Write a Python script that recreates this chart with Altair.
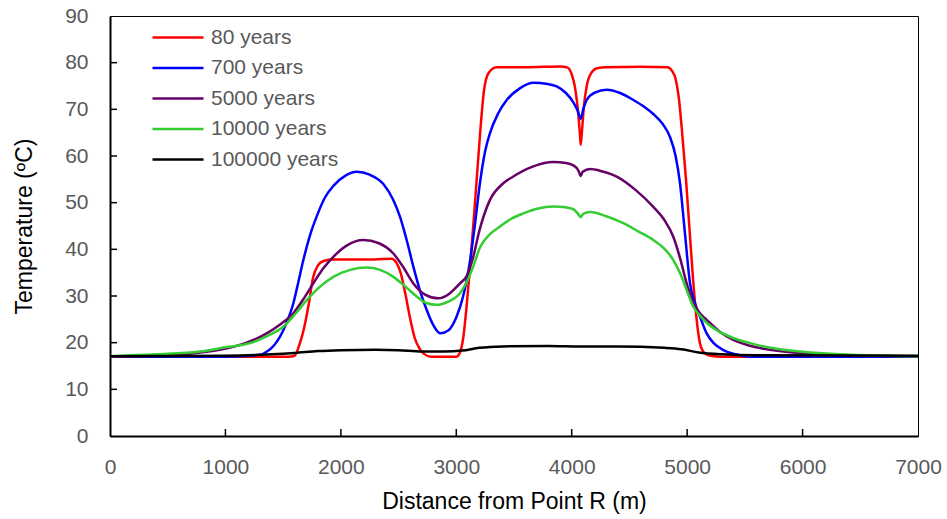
import altair as alt
import pandas as pd

series_names = ["80 years", "700 years", "5000 years", "10000 years", "100000 years"]
series_colors = ["#FF0000", "#0000FF", "#660066", "#33CC33", "#000000"]

red_x = [0, 1000, 1550, 1600, 1640, 1680, 1720, 1760, 1800, 1850, 1935, 2200, 2440, 2480, 2520, 2560, 2600, 2640, 2680, 2720, 2780, 3000,
         3030, 3060, 3090, 3120, 3150, 3180, 3210, 3240, 3280, 3350, 3600, 3900, 3960, 4000, 4030, 4055, 4070, 4078, 4088, 4105, 4130, 4170,
         4220, 4300, 4600, 4830, 4870, 4900, 4930, 4960, 4990, 5020, 5050, 5080, 5110, 5150, 5200, 5300, 6000, 7000]
red_y = [17.0, 17.0, 17.0, 17.2, 19.5, 23.0, 28.0, 34.0, 36.5, 37.5, 37.8, 37.8, 38.0, 37.2, 34.8, 30.3, 25.2, 21.0, 18.8, 17.6, 17.0, 17.0,
         17.8, 21.0, 28.0, 36.5, 46.0, 56.0, 66.0, 74.0, 77.8, 79.0, 79.0, 79.2, 79.0, 77.5, 74.5, 69.5, 65.0, 62.4, 65.0, 70.5, 75.0, 77.8,
         78.8, 79.0, 79.1, 79.0, 78.2, 76.5, 72.0, 64.0, 55.0, 44.5, 34.0, 25.5, 20.0, 17.8, 17.2, 17.0, 17.0, 17.0]

blue_x = [0, 1000, 1300, 1360, 1420, 1473, 1530, 1588, 1630, 1675, 1730, 1790, 1860, 1935, 2040, 2137, 2250, 2368, 2450, 2512, 2570, 2628,
          2690, 2744, 2800, 2860, 2930, 3003, 3060, 3119, 3160, 3205, 3250, 3292, 3360, 3437, 3550, 3668, 3780, 3870, 3950, 4014, 4050,
          4078, 4100, 4130, 4200, 4303, 4420, 4534, 4630, 4707, 4790, 4851, 4900, 4938, 4981, 5025, 5070, 5111, 5169, 5230, 5314, 5420,
          5545, 6000, 7000]
blue_y = [17.0, 17.0, 17.4, 18.1, 19.4, 21.3, 24.3, 28.4, 32.8, 37.7, 42.8, 47.0, 51.0, 53.6, 55.8, 56.6, 56.0, 54.0, 50.8, 47.0, 42.0, 36.3,
          30.8, 27.0, 23.8, 22.0, 22.6, 25.6, 30.0, 37.5, 45.0, 54.2, 61.0, 64.9, 69.0, 72.0, 74.5, 75.7, 75.5, 74.9, 73.5, 71.5, 69.8,
          68.0, 70.0, 72.0, 73.6, 74.2, 73.5, 72.0, 70.5, 69.0, 66.8, 64.1, 60.0, 54.2, 43.4, 32.7, 28.3, 25.6, 22.0, 19.9, 18.4, 17.5,
          17.0, 17.0, 17.0]

purple_x = [0, 500, 1068, 1357, 1480, 1588, 1680, 1761, 1850, 1935, 2050, 2195, 2330, 2455, 2540, 2628, 2730, 2844, 2940, 3032, 3090,
            3148, 3200, 3292, 3400, 3494, 3650, 3841, 3950, 4014, 4060, 4078, 4095, 4159, 4250, 4390, 4550, 4707, 4800, 4880, 4940,
            4996, 5060, 5111, 5169, 5285, 5400, 5600, 5833, 6266, 7000]
purple_y = [17.0, 17.3, 19.1, 22.0, 24.0, 26.3, 29.5, 32.7, 36.0, 38.4, 40.8, 42.0, 41.3, 39.1, 36.2, 32.7, 30.3, 29.5, 30.5, 32.7, 34.3,
            38.5, 44.0, 50.6, 54.0, 55.6, 57.6, 58.7, 58.5, 58.0, 56.8, 55.7, 56.6, 57.2, 56.8, 55.6, 52.8, 49.1, 46.4, 42.7, 38.0,
            32.7, 28.3, 26.3, 24.9, 22.3, 20.6, 19.0, 18.1, 17.4, 17.1]

green_x = [0, 400, 780, 1000, 1213, 1370, 1501, 1610, 1704, 1820, 1935, 2080, 2224, 2340, 2455, 2560, 2657, 2740, 2830, 2930, 3032, 3100,
           3150, 3205, 3290, 3379, 3480, 3581, 3700, 3841, 3950, 4014, 4055, 4078, 4100, 4159, 4300, 4447, 4580, 4707, 4800, 4880, 4940,
           4996, 5054, 5111, 5180, 5256, 5400, 5545, 5750, 5978, 6411, 7000]
green_y = [17.1, 17.5, 18.1, 19.0, 19.9, 21.5, 23.4, 26.3, 29.1, 32.0, 34.1, 35.6, 36.1, 35.6, 34.1, 32.0, 29.9, 28.5, 28.1, 28.8, 30.6, 33.5,
           36.5, 40.4, 43.2, 44.9, 46.6, 47.7, 48.7, 49.2, 49.0, 48.6, 47.6, 46.9, 47.6, 48.0, 47.1, 45.6, 43.8, 42.0, 40.2, 37.7, 34.8,
           31.3, 27.7, 25.8, 24.0, 22.7, 21.0, 19.9, 18.8, 18.1, 17.4, 17.1]

black_x = [0, 1000, 1400, 1600, 1800, 2000, 2300, 2500, 2700, 2900, 3050, 3200, 3400, 3800, 4078, 4400, 4800, 4950, 5100, 5300, 5600, 7000]
black_y = [17.1, 17.2, 17.5, 17.8, 18.2, 18.4, 18.5, 18.4, 18.1, 18.1, 18.3, 18.9, 19.2, 19.3, 19.2, 19.2, 18.9, 18.6, 17.9, 17.5, 17.3, 17.2]

x_tick_values = [0, 1000, 2000, 3000, 4000, 5000, 6000, 7000]
y_tick_values = [0, 10, 20, 30, 40, 50, 60, 70, 80, 90]

frames = []
for name, xs, ys in zip(series_names,
                        [red_x, blue_x, purple_x, green_x, black_x],
                        [red_y, blue_y, purple_y, green_y, black_y]):
    frames.append(pd.DataFrame({"distance": xs, "temperature": ys, "series": name}))
df = pd.concat(frames, ignore_index=True)

FONT = "Liberation Sans"
x_scale = alt.Scale(domain=[0, 7000], nice=False, zero=False)
y_scale = alt.Scale(domain=[0, 90], nice=False, zero=True)

lines = alt.Chart(df).mark_line(strokeWidth=2.5, interpolate="monotone").encode(
    x=alt.X("distance:Q", scale=x_scale,
            axis=alt.Axis(values=x_tick_values, format="d", tickSize=0, labelPadding=20, labelFontSize=21,
                          labelColor="#595959", labelFont=FONT, title="Distance from Point R (m)",
                          titleFontSize=23, titleFont=FONT, titleColor="#000000", titleFontWeight="normal",
                          titlePadding=13, grid=False, domainColor="#000000", domainWidth=2,
                          labelFlush=False)),
    y=alt.Y("temperature:Q", scale=y_scale,
            axis=alt.Axis(values=y_tick_values, format="d", tickSize=0, labelPadding=22, labelFontSize=21,
                          labelColor="#595959", labelFont=FONT, title="Temperature (ºC)",
                          titleFontSize=23, titleFont=FONT, titleColor="#000000", titleFontWeight="normal",
                          titlePadding=28, grid=False, domainColor="#000000", domainWidth=2,
                          labelFlush=False)),
    color=alt.Color("series:N", scale=alt.Scale(domain=series_names, range=series_colors),
                    sort=series_names,
                    legend=alt.Legend(orient="none", legendX=79, legendY=11, title=None,
                                      symbolType="M-11.75,0H1", symbolSize=64, symbolStrokeWidth=2.5,
                                      labelFontSize=21, labelFont=FONT, labelColor="#595959",
                                      labelOffset=1, rowPadding=8.5, padding=0)),
    detail="series:N",
)

xt_df = pd.DataFrame({"distance": x_tick_values[1:-1]})
yt_df = pd.DataFrame({"temperature": y_tick_values[1:-1]})

xticks = alt.Chart(xt_df).mark_rule(color="#000000", strokeWidth=1.5).encode(
    x=alt.X("distance:Q", scale=x_scale), y=alt.value(420), y2=alt.value(413))
yticks = alt.Chart(yt_df).mark_rule(color="#000000", strokeWidth=1.5).encode(
    y=alt.Y("temperature:Q", scale=y_scale), x=alt.value(0), x2=alt.value(7))

chart = alt.layer(lines, xticks, yticks).properties(
    width=808, height=420,
    autosize=alt.AutoSizeParams(type="none"),
    padding={"left": 110, "top": 16, "right": 29, "bottom": 83},
    background="#FFFFFF",
).configure_view(stroke="#000000", strokeWidth=1)

chart.save("out.html", embed_options={"renderer": "svg", "actions": False})
